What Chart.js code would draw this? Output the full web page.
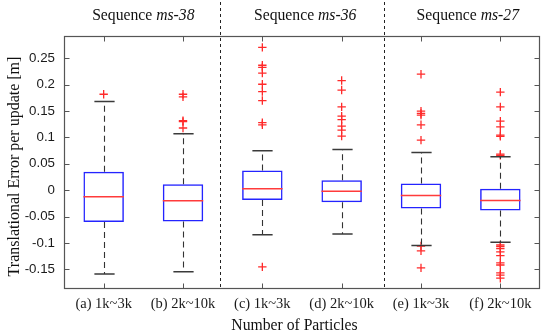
<!DOCTYPE html>
<html>
<head>
<meta charset="utf-8">
<script src="https://cdn.jsdelivr.net/npm/chart.js@4.4.1/dist/chart.umd.min.js"></script>
<style>
  body { margin: 0; background: #fff; }
  canvas { display: block; }
</style>
</head>
<body>
<canvas id="boxChart" width="550" height="333"></canvas>
<script>
// Box plot values
const labels = ["(a) 1k~3k", "(b) 2k~10k", "(c) 1k~3k", "(d) 2k~10k", "(e) 1k~3k", "(f) 2k~10k"];
const q1 = [-0.0605, -0.0595, -0.0185, -0.0228, -0.0348, -0.0386];
const median = [-0.0127, -0.0203, 0.0025, -0.0019, -0.0101, -0.0196];
const q3 = [0.0348, 0.0114, 0.0373, 0.019, 0.0127, 0.0025];
const whiskerLow = [-0.159, -0.155, -0.0848, -0.083, -0.105, -0.0987];
const whiskerHigh = [0.168, 0.107, 0.0747, 0.077, 0.0716, 0.0633];
const outliers = [
  [0.182],
  [0.182, 0.177, 0.132, 0.130, 0.118],
  [0.271, 0.237, 0.233, 0.222, 0.201, 0.187, 0.17, 0.128, 0.124, -0.1456],
  [0.208, 0.19, 0.158, 0.1405, 0.134, 0.1215, 0.114, 0.1025],
  [0.22, 0.15, 0.1456, 0.1424, 0.124, 0.095, -0.106, -0.115, -0.1475],
  [0.186, 0.158, 0.131, 0.12, 0.1044, 0.102, 0.0684, 0.066,
   -0.104, -0.107, -0.111, -0.117, -0.124, -0.138, -0.142, -0.157, -0.161, -0.167]
];
const yTicks = [-0.15, -0.1, -0.05, 0, 0.05, 0.1, 0.15, 0.2, 0.25];
const sequences = ["ms-38", "ms-36", "ms-27"];

const serif = "'Liberation Serif', 'Times New Roman', serif";
const sans = "'Liberation Sans', Arial, sans-serif";

// medians, whiskers, caps, frame, separators and headers
const boxParts = {
  id: "boxParts",
  afterDatasetsDraw(chart) {
    const ctx = chart.ctx;
    const ys = chart.scales.y;
    const bars = chart.getDatasetMeta(0).data;

    ctx.save();
    bars.forEach((bar, i) => {
      const cx = Math.round(bar.x) + 0.5;
      const half = bar.width / 2;

      // whiskers
      ctx.strokeStyle = "#333";
      ctx.lineWidth = 1.1;
      ctx.setLineDash([6, 4]);
      ctx.beginPath();
      ctx.moveTo(cx, ys.getPixelForValue(q3[i]));
      ctx.lineTo(cx, ys.getPixelForValue(whiskerHigh[i]));
      ctx.moveTo(cx, ys.getPixelForValue(q1[i]));
      ctx.lineTo(cx, ys.getPixelForValue(whiskerLow[i]));
      ctx.stroke();
      ctx.setLineDash([]);

      // caps
      ctx.strokeStyle = "#3a3a3a";
      ctx.lineWidth = 1.5;
      ctx.beginPath();
      [whiskerHigh[i], whiskerLow[i]].forEach((v) => {
        const py = ys.getPixelForValue(v);
        ctx.moveTo(cx - half / 2, py);
        ctx.lineTo(cx + half / 2, py);
      });
      ctx.stroke();

      // median
      ctx.strokeStyle = "#ff3b3b";
      ctx.lineWidth = 1.5;
      ctx.beginPath();
      const my = ys.getPixelForValue(median[i]);
      ctx.moveTo(bar.x - half, my);
      ctx.lineTo(bar.x + half, my);
      ctx.stroke();
    });
    ctx.restore();
  },
  afterDraw(chart) {
    const ctx = chart.ctx;
    const xs = chart.scales.x;
    const ys = chart.scales.y;
    const area = chart.chartArea;
    const L = Math.round(area.left) + 0.5;
    const R = Math.round(area.right) - 0.5;
    const T = Math.round(area.top) + 0.5;
    const B = Math.round(area.bottom) - 0.5;

    ctx.save();
    // frame
    ctx.strokeStyle = "#555";
    ctx.lineWidth = 1.2;
    ctx.strokeRect(L, T, R - L, B - T);

    // inward ticks
    ctx.lineWidth = 1;
    ctx.beginPath();
    yTicks.forEach((v) => {
      const py = Math.round(ys.getPixelForValue(v)) + 0.5;
      ctx.moveTo(L, py); ctx.lineTo(L + 5, py);
      ctx.moveTo(R, py); ctx.lineTo(R - 5, py);
    });
    labels.forEach((lab, i) => {
      const px = Math.round(xs.getPixelForValue(i)) + 0.5;
      ctx.moveTo(px, T); ctx.lineTo(px, T + 5);
      ctx.moveTo(px, B); ctx.lineTo(px, B - 5);
    });
    ctx.stroke();

    // dashed separators between sequences
    ctx.strokeStyle = "#222";
    ctx.setLineDash([3, 3]);
    ctx.beginPath();
    [1.47, 3.53].forEach((v) => {
      const px = Math.round(xs.getPixelForValue(v)) + 0.5;
      ctx.moveTo(px, 2);
      ctx.lineTo(px, B);
    });
    ctx.stroke();
    ctx.setLineDash([]);

    // sequence headers
    ctx.fillStyle = "#111";
    ctx.textBaseline = "alphabetic";
    ctx.textAlign = "left";
    [0.5, 2.54, 4.59].forEach((v, k) => {
      const cx = xs.getPixelForValue(v);
      ctx.font = "15.7px " + serif;
      const w1 = ctx.measureText("Sequence ").width;
      ctx.font = "italic 15.7px " + serif;
      const w2 = ctx.measureText(sequences[k]).width;
      const x0 = cx - (w1 + w2) / 2;
      ctx.font = "15.7px " + serif;
      ctx.fillText("Sequence ", x0, 19.5);
      ctx.font = "italic 15.7px " + serif;
      ctx.fillText(sequences[k], x0 + w1, 19.5);
    });

    // axis titles
    ctx.font = "15.7px " + serif;
    ctx.textAlign = "center";
    ctx.fillText("Number of Particles", 294.5, 329.5);

    ctx.translate(15, 166.5);
    ctx.rotate(-Math.PI / 2);
    ctx.font = "16px " + serif;
    ctx.textBaseline = "middle";
    ctx.fillText("Translational Error per update [m]", 0, 0);
    ctx.restore();
  }
};

const ctx = document.getElementById("boxChart");

new Chart(ctx, {
  type: "bar",
  data: {
    labels: labels,
    datasets: [
      {
        label: "box",
        data: q1.map((v, i) => [v, q3[i]]),
        backgroundColor: "rgba(255,255,255,0)",
        borderColor: "#2424ff",
        borderWidth: 1.5,
        borderSkipped: false,
        barPercentage: 0.51,
        categoryPercentage: 1,
      },
      {
        type: "scatter",
        label: "outliers",
        data: outliers.flatMap((vals, i) => vals.map((v) => ({ x: labels[i], y: v }))),
        pointStyle: "cross",
        pointRadius: 4.2,
        pointHoverRadius: 4.2,
        borderColor: "#ff2a2a",
        backgroundColor: "#ff2a2a",
        borderWidth: 1.3,
      },
    ],
  },
  options: {
    responsive: false,
    animation: false,
    layout: { padding: { top: 36, right: 10, left: 0, bottom: 0 } },
    plugins: {
      legend: { display: false },
      tooltip: { enabled: false },
    },
    scales: {
      x: {
        type: "category",
        offset: true,
        grid: { display: false, drawTicks: false },
        border: { display: false },
        ticks: {
          font: { family: serif, size: 14.5 },
          color: "#1a1a1a",
          padding: 6,
          maxRotation: 0,
          autoSkip: false,
        },
        afterFit: (scale) => { scale.height = 44; },
      },
      y: {
        min: -0.1875,
        max: 0.2925,
        grid: { display: false, drawTicks: false },
        border: { display: false },
        afterBuildTicks: (scale) => {
          scale.ticks = yTicks.map((v) => ({ value: v }));
        },
        ticks: {
          font: { family: sans, size: 13.3 },
          color: "#1a1a1a",
          padding: 9,
          callback: (v) => String(Number(v.toFixed(2))),
        },
        afterFit: (scale) => { scale.width = 64; },
      },
    },
  },
  plugins: [boxParts],
});
</script>
</body>
</html>
